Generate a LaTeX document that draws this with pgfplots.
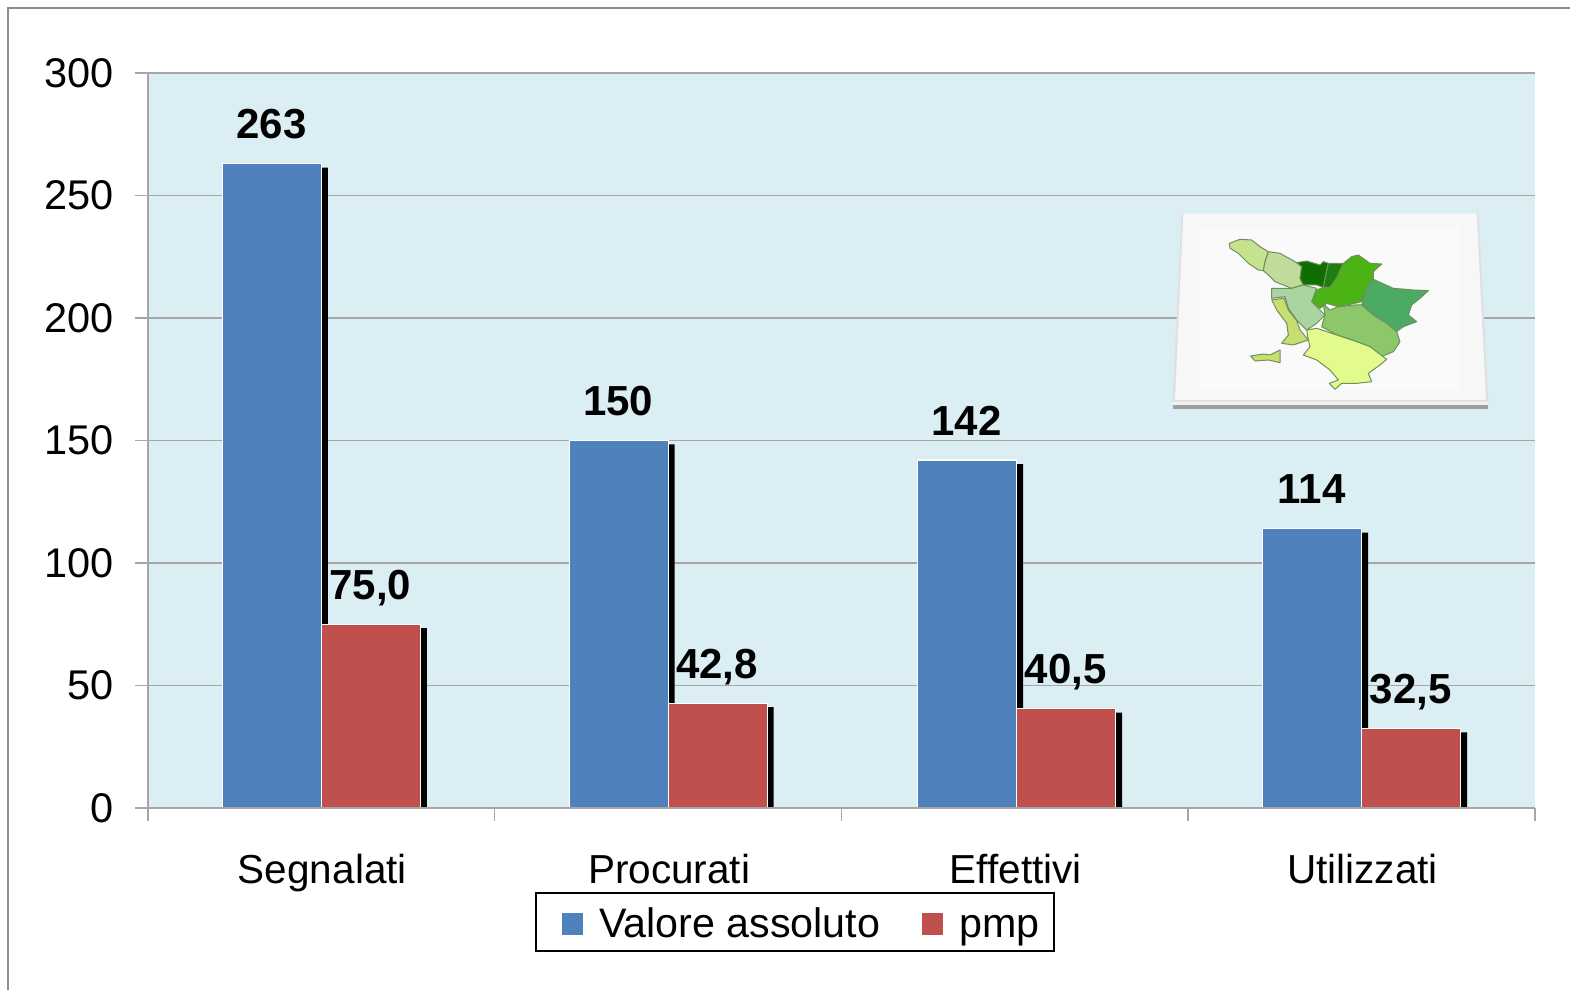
\documentclass[border=0pt]{standalone}
\usepackage{fontspec}
\setmainfont{Liberation Sans}
\usepackage{pgfplots}
\usepackage{pgfplotstable}
\pgfplotsset{compat=1.18}
\definecolor{bgc}{HTML}{DAEEF3}
\definecolor{blu}{HTML}{4F81BD}
\definecolor{rdd}{HTML}{C0504D}
\definecolor{gridc}{HTML}{A6A6A6}
\definecolor{mapedge}{HTML}{6F8F5F}
\newcommand{\fsz}{\fontsize{40.5}{48}\selectfont}
\newcommand{\fszy}{\fontsize{41.5}{48}\selectfont}
\newcommand{\fszv}{\fontsize{42}{48}\selectfont}
\newcommand{\fszl}{\fontsize{41.2}{48}\selectfont}
\pgfplotstableread{
x      y   lab
0      263 263
1      150 150
2.005  142 142
3      114 114
}\blue
\pgfplotstableread{
x      y    lab
0      75.0 75,0
1      42.8 42,8
2.005  40.5 40,5
3      32.5 32,5
}\red
\pgfplotstableread{
x      y
0      261.4
1      148.4
2.005  140.4
3      112.4
}\blueshadow
\pgfplotstableread{
x      y
0      73.4
1      41.2
2.005  38.9
3      30.9
}\redshadow
\begin{document}
\begin{tikzpicture}[x=1pt,y=1pt]
\useasboundingbox (0,0) rectangle (1570,990);
\draw[color=gray!90,line width=1.5pt] (8,0) -- (8,982) -- (1570,982);
\begin{axis}[
  at={(148pt,182pt)},anchor=south west,
  scale only axis,width=1387pt,height=735pt,
  xmin=-0.5,xmax=3.5,ymin=0,ymax=300,
  axis x line*=bottom,axis y line*=left,
  axis line style={gridc,line width=1.5pt,-},
  axis background/.style={fill=bgc},
  tick align=outside,
  ytick={0,50,...,300},
  ymajorgrids,
  grid style={gridc,line width=1.5pt},
  y tick style={gridc,line width=1.5pt},
  major tick length=13pt,
  xtick={0,1,2,3},
  xticklabels={Segnalati,Procurati,Effettivi,Utilizzati},
  major x tick style={draw=none},
  minor xtick={-0.5,0.5,1.5,2.5,3.5},
  minor x tick style={gridc,line width=1.5pt},
  minor tick length=13pt,
  /pgf/number format/assume math mode=true,
  yticklabel style={font=\fszy,xshift=-18pt},
  xticklabel style={font=\fsz,yshift=-30pt,xshift=1pt},
  legend columns=2,
  legend cell align=left,
  legend image code/.code={\fill[#1] (0pt,-13.5pt) rectangle (22pt,9.5pt);},
  legend style={at={(0.279,-0.1143)},anchor=north west,draw=black,line width=2pt,
    font=\fszl,fill=white,inner xsep=25pt,inner ysep=9pt,
    nodes={text depth=3pt,text height=33pt},
    /tikz/every even column/.append style={column sep=39pt},
    /tikz/every odd column/.append style={column sep=13pt}},
  nodes near coords style={font=\bfseries\fszv,anchor=base,yshift=25pt,text=black},
]
\addplot[ybar,forget plot,bar width=7pt,bar shift=3pt,fill=black,draw=none] table[x=x,y=y] {\blueshadow};
\addplot[ybar,bar width=99pt,bar shift=-49.5pt,fill=blu,draw=white,line width=1.2pt,
  point meta=explicit symbolic,nodes near coords,
  nodes near coords style={xshift=-50pt}] table[x=x,y=y,meta=lab] {\blue};
\addlegendentry{Valore assoluto}
\addplot[ybar,forget plot,bar width=7pt,bar shift=102pt,fill=black,draw=none] table[x=x,y=y] {\redshadow};
\addplot[ybar,bar width=99pt,bar shift=49.5pt,fill=rdd,draw=white,line width=1.2pt,
  point meta=explicit symbolic,nodes near coords,
  nodes near coords style={xshift=49pt}] table[x=x,y=y,meta=lab] {\red};
\addlegendentry{pmp\hspace*{-12pt}}
\end{axis}
\draw[gridc,line width=1.5pt] (148,182) -- (1535,182);
% map inset
\begin{scope}[shift={(1160,790)},x=0.33333pt,y=-0.33333pt]
\fill[gray!75] (38,600) -- (985,600) -- (985,627) -- (38,627) -- cycle;
\fill[white!90!gray] (38,600) -- (985,600) -- (985,615) -- (38,615) -- cycle;
\fill[gray!25] (65,40) -- (955,40) -- (985,605) -- (38,605) -- cycle;
\fill[white!97!black] (70,40) -- (950,40) -- (978,600) -- (45,600) -- cycle;
\begin{scope}[draw=mapedge,line width=1pt,line join=round]
\filldraw[fill=white!98!black,draw=none] (120,80) rectangle (900,570);
\filldraw[fill={rgb,255:red,197;green,226;blue,143}] (208,130)--(240,118)--(275,120)--(300,140)--(325,155)--(315,185)--(310,212)--(295,210)--(265,190)--(235,160)--(210,145)--cycle;
\filldraw[fill={rgb,255:red,192;green,220;blue,155}] (325,155)--(360,160)--(410,188)--(425,200)--(420,235)--(430,255)--(395,265)--(345,245)--(325,225)--(310,212)--(315,185)--cycle;
\filldraw[fill={rgb,255:red,14;green,111;blue,0}] (410,188)--(440,183)--(480,195)--(490,185)--(505,190)--(495,235)--(490,262)--(470,255)--(430,255)--(420,235)--(425,200)--cycle;
\filldraw[fill={rgb,255:red,30;green,127;blue,16}] (505,190)--(550,190)--(530,235)--(510,262)--(490,262)--(495,235)--cycle;
\filldraw[fill={rgb,255:red,76;green,179;blue,20}] (550,190)--(575,170)--(595,165)--(630,190)--(665,192)--(640,215)--(640,235)--(620,265)--(605,305)--(585,310)--(535,320)--(500,310)--(480,325)--(455,305)--(470,270)--(490,262)--(510,262)--(530,235)--cycle;
\filldraw[fill={rgb,255:red,75;green,171;blue,101}] (640,238)--(700,265)--(760,270)--(805,272)--(780,295)--(755,315)--(745,345)--(770,365)--(730,380)--(710,395)--(680,370)--(640,345)--(605,315)--(620,265)--cycle;
\filldraw[fill={rgb,255:red,140;green,199;blue,106}] (490,312)--(510,330)--(535,320)--(585,315)--(605,315)--(640,345)--(680,370)--(710,395)--(720,425)--(700,455)--(665,470)--(630,440)--(590,425)--(530,405)--(485,380)--(495,345)--cycle;
\filldraw[fill={rgb,255:red,169;green,214;blue,160}] (335,265)--(395,265)--(430,255)--(470,265)--(455,305)--(480,330)--(495,345)--(470,370)--(440,390)--(410,360)--(385,325)--(375,290)--(335,295)--cycle;
\filldraw[fill={rgb,255:red,198;green,223;blue,112}] (335,300)--(372,295)--(385,330)--(410,362)--(420,390)--(445,420)--(400,435)--(365,430)--(385,405)--(380,370)--(350,330)--cycle;
\filldraw[fill={rgb,255:red,227;green,250;blue,140}] (440,390)--(470,385)--(530,405)--(590,425)--(630,440)--(680,478)--(660,495)--(625,520)--(635,545)--(590,550)--(545,550)--(525,568)--(508,550)--(535,540)--(510,510)--(470,480)--(430,465)--(450,440)--(445,420)--cycle;
\filldraw[fill={rgb,255:red,198;green,223;blue,112}] (272,468)--(310,462)--(330,465)--(360,450)--(360,488)--(325,480)--(285,483)--cycle;
\end{scope}
\end{scope}
\end{tikzpicture}
\end{document}
